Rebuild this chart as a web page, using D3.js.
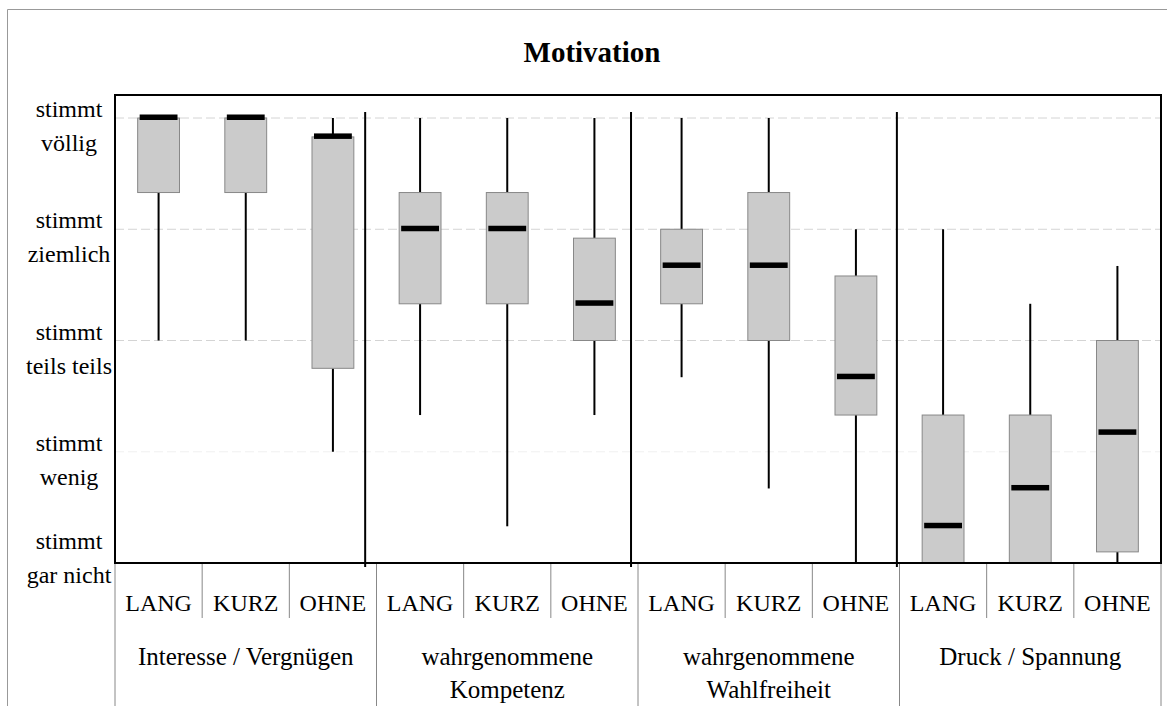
<!DOCTYPE html>
<html>
<head>
<meta charset="utf-8">
<script src="https://cdn.jsdelivr.net/npm/d3@7"></script>
<style>
  body { margin: 0; background: #fff; }
</style>
</head>
<body>
<div id="chart"></div>
<script>
var width = 1167;
var height = 706;
var serif = "'Liberation Serif'";

// data (1 = stimmt gar nicht ... 5 = stimmt völlig)
var groups = [["Interesse / Vergnügen"], ["wahrgenommene", "Kompetenz"], ["wahrgenommene", "Wahlfreiheit"], ["Druck / Spannung"]];
var conditions = ["LANG", "KURZ", "OHNE"];
var levels = [1, 2, 3, 4, 5];
var levelLabels = [["stimmt", "gar nicht"], ["stimmt", "wenig"], ["stimmt", "teils teils"], ["stimmt", "ziemlich"], ["stimmt", "völlig"]];

var whiskerLow  = [3,    3,    2,    2.33, 1.33, 2.33, 2.67, 1.67, 1,    1,    1,    1];
var q1          = [4.33, 4.33, 2.75, 3.33, 3.33, 3,    3.33, 3,    2.33, 1,    1,    1.1];
var median      = [5,    5,    4.83, 4,    4,    3.33, 3.67, 3.67, 2.67, 1.33, 1.67, 2.17];
var q3          = [5,    5,    4.83, 4.33, 4.33, 3.92, 4,    4.33, 3.58, 2.33, 2.33, 3];
var whiskerHigh = [5,    5,    5,    5,    5,    5,    5,    5,    4,    4,    3.33, 3.67];

// separators inside the plot, in category units
var separators = [2.87, 5.92, 8.97];

var plot = {left: 115, right: 1161, top: 95, bottom: 563};

var keys = [];
groups.forEach(function(g, gi) {
  conditions.forEach(function(c) { keys.push(gi + "-" + c); });
});

var boxes = keys.map(function(k, i) {
  return {key: k, cond: k.split("-")[1], lo: whiskerLow[i], q1: q1[i], med: median[i], q3: q3[i], hi: whiskerHigh[i]};
});

var x = d3.scaleBand()
          .domain(keys)
          .range([plot.left, plot.right]);

var xi = d3.scaleLinear()
          .domain([0, keys.length])
          .range([plot.left, plot.right]);

var y = d3.scaleLinear()
          .domain([1, 5])
          .range([plot.bottom, 118]);

var svg = d3.select("#chart")
          .append("svg")
          .attr("width", width)
          .attr("height", height);

// outer frame
svg.append("path")
   .attr("d", "M7.5," + height + "V9.5H" + width)
   .attr("fill", "none")
   .attr("stroke", "#999")
   .attr("stroke-width", 1);

svg.append("text")
   .attr("x", 592)
   .attr("y", 62)
   .attr("text-anchor", "middle")
   .style("font-family", serif)
   .style("font-size", "29px")
   .style("font-weight", "bold")
   .text("Motivation");

// horizontal gridlines
svg.append("g")
   .selectAll("line")
   .data(levels.slice(1))
   .enter().append("line")
   .attr("x1", plot.left)
   .attr("x2", plot.right)
   .attr("y1", function(d) { return y(d); })
   .attr("y2", function(d) { return y(d); })
   .attr("stroke", function(d) { return d == 2 ? "#f0f0f0" : "#d4d4d4"; })
   .attr("stroke-dasharray", "9,4")
   .attr("stroke-width", 1);

// y labels
var yl = svg.append("g")
   .selectAll("text")
   .data(levels)
   .enter().append("text")
   .attr("text-anchor", "middle")
   .style("font-family", serif)
   .style("font-size", "24px")
   .attr("transform", function(d) {
     return "translate(69," + Math.min(y(d) - 1, y(1) - 14) + ")";
   });

yl.each(function(d, i) {
  var t = d3.select(this);
  levelLabels[i].forEach(function(s, j) {
    t.append("tspan").attr("x", 0).attr("y", j * 34).text(s);
  });
});

var bw = x.bandwidth() * 0.48;
var cx = function(d) { return x(d.key) + x.bandwidth() / 2; };

var boxG = svg.append("g");

// whiskers
boxG.selectAll("line.up")
   .data(boxes.filter(function(d) { return d.hi > d.q3; }))
   .enter().append("line")
   .attr("x1", cx).attr("x2", cx)
   .attr("y1", function(d) { return y(d.hi); })
   .attr("y2", function(d) { return y(d.q3); })
   .attr("stroke", "#000")
   .attr("stroke-width", 2);

boxG.selectAll("line.down")
   .data(boxes.filter(function(d) { return d.lo < d.q1; }))
   .enter().append("line")
   .attr("x1", cx).attr("x2", cx)
   .attr("y1", function(d) { return y(d.q1); })
   .attr("y2", function(d) { return y(d.lo); })
   .attr("stroke", "#000")
   .attr("stroke-width", 2);

boxG.selectAll("rect.box")
   .data(boxes)
   .enter().append("rect")
   .attr("x", function(d) { return cx(d) - bw / 2; })
   .attr("y", function(d) { return y(d.q3); })
   .attr("width", bw)
   .attr("height", function(d) { return y(d.q1) - y(d.q3); })
   .attr("fill", "#cbcbcb")
   .attr("stroke", "#888")
   .attr("stroke-width", 1);

boxG.selectAll("rect.med")
   .data(boxes)
   .enter().append("rect")
   .attr("x", function(d) { return cx(d) - bw / 2 + 2; })
   .attr("y", function(d) { return y(d.med) - 3.5; })
   .attr("width", bw - 4)
   .attr("height", 5.5)
   .attr("fill", "#000");

// group separators
svg.append("g")
   .selectAll("line")
   .data(separators)
   .enter().append("line")
   .attr("x1", function(d) { return xi(d); })
   .attr("x2", function(d) { return xi(d); })
   .attr("y1", y(5) - 6)
   .attr("y2", plot.bottom + 4)
   .attr("stroke", "#000")
   .attr("stroke-width", 2);

// plot border
svg.append("rect")
   .attr("x", plot.left)
   .attr("y", plot.top)
   .attr("width", plot.right - plot.left)
   .attr("height", plot.bottom - plot.top)
   .attr("fill", "none")
   .attr("stroke", "#000")
   .attr("stroke-width", 2);

// category table below the plot
var table = svg.append("g");

table.selectAll("line")
   .data(d3.range(keys.length + 1))
   .enter().append("line")
   .attr("x1", function(i) { return xi(i); })
   .attr("x2", function(i) { return xi(i); })
   .attr("y1", plot.bottom + 1)
   .attr("y2", function(i) { return i % 3 == 0 ? height : 618; })
   .attr("stroke", "#888")
   .attr("stroke-width", 1);

table.selectAll("text.cond")
   .data(boxes)
   .enter().append("text")
   .attr("x", cx)
   .attr("y", 611)
   .attr("text-anchor", "middle")
   .style("font-family", serif)
   .style("font-size", "24px")
   .text(function(d) { return d.cond; });

table.selectAll("text.group")
   .data(groups)
   .enter().append("text")
   .attr("text-anchor", "middle")
   .style("font-family", serif)
   .style("font-size", "25px")
   .attr("transform", function(d, i) { return "translate(" + xi(i * 3 + 1.5) + ",665)"; })
   .each(function(d) {
     var t = d3.select(this);
     d.forEach(function(s, j) {
       t.append("tspan").attr("x", 0).attr("y", j * 33).text(s);
     });
   });
</script>
</body>
</html>
